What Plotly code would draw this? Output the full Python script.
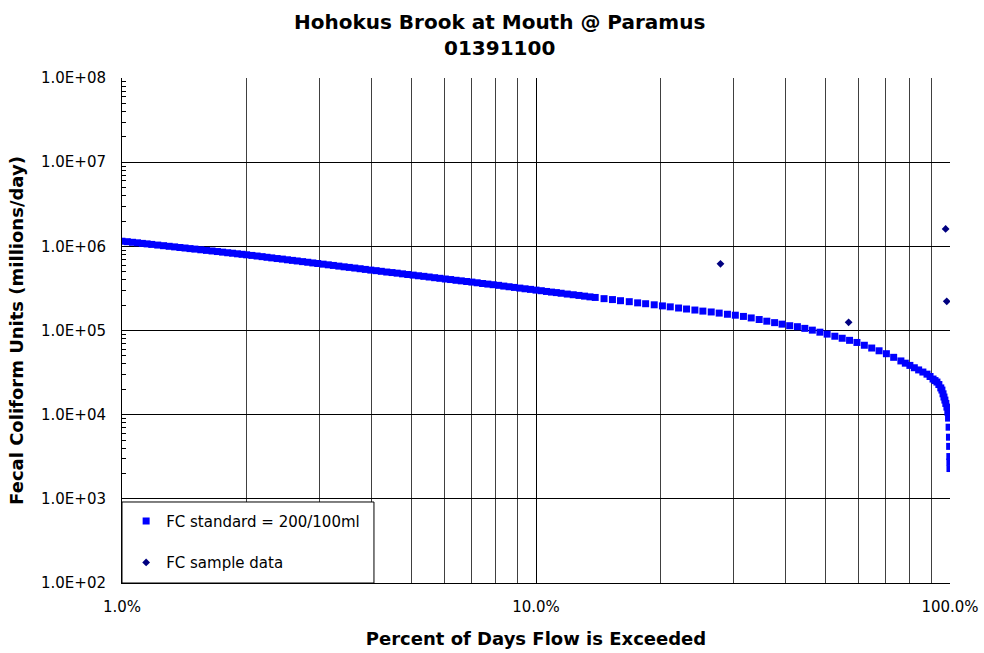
import plotly.graph_objects as go

# Flow-duration based FC standard curve (percent of days exceeded, millions/day)
std_pct = [1.00, 1.03, 1.06, 1.09, 1.12, 1.15, 1.18, 1.22, 1.26, 1.30, 1.34, 1.38, 1.42, 1.46,
           1.50, 1.55, 1.60, 1.65, 1.70, 1.75, 1.80, 1.85, 1.90, 1.95, 2.00, 2.06, 2.12, 2.18,
           2.24, 2.30, 2.37, 2.44, 2.51, 2.58, 2.65, 2.73, 2.81, 2.89, 2.97, 3.06, 3.15, 3.24,
           3.34, 3.44, 3.54, 3.65, 3.76, 3.87, 3.99, 4.11, 4.23, 4.36, 4.49, 4.62, 4.76, 4.90,
           5.05, 5.20, 5.36, 5.52, 5.69, 5.86, 6.04, 6.22, 6.41, 6.60, 6.80, 7.00, 7.21, 7.43,
           7.65, 7.88, 8.12, 8.36, 8.61, 8.87, 9.14, 9.41, 9.70, 10.0, 10.3, 10.6, 10.9, 11.2,
           11.5, 11.9, 12.3, 12.7, 13.1, 13.5, 13.9, 14.6, 15.3, 16.0, 16.8, 17.6, 18.4, 19.3,
           20.2, 21.1, 22.1, 23.1, 24.2, 25.3, 26.5, 27.7, 29.0, 30.3, 31.7, 33.1, 34.6, 36.1,
           37.7, 39.3, 41.0, 42.8, 44.6, 46.5, 48.5, 50.5, 52.7, 54.9, 57.2, 59.6, 62.1, 64.7,
           67.4, 70.2, 73.1, 76.1, 78.0, 80.0, 82.0, 84.0, 86.0, 88.0, 89.5, 91.0, 92.0, 93.0,
           94.0, 95.0, 95.6, 96.2, 96.7, 97.2, 97.7, 98.3, 98.8, 99.2, 99.5, 99.7, 99.8, 99.9,
           99.95, 99.98]
std_val = [1.15e6, 1.135e6, 1.117e6, 1.101e6, 1.084e6, 1.069e6, 1.054e6, 1.035e6, 1.018e6, 1.001e6,
           9.85e5, 9.68e5, 9.55e5, 9.40e5, 9.27e5, 9.10e5, 8.95e5, 8.81e5, 8.67e5, 8.53e5,
           8.39e5, 8.28e5, 8.15e5, 8.04e5, 7.93e5, 7.80e5, 7.67e5, 7.54e5, 7.41e5, 7.29e5,
           7.16e5, 7.05e5, 6.92e5, 6.81e5, 6.70e5, 6.58e5, 6.47e5, 6.35e5, 6.25e5, 6.14e5,
           6.03e5, 5.93e5, 5.82e5, 5.71e5, 5.62e5, 5.52e5, 5.42e5, 5.32e5, 5.22e5, 5.14e5,
           5.05e5, 4.95e5, 4.88e5, 4.80e5, 4.71e5, 4.63e5, 4.55e5, 4.47e5, 4.40e5, 4.32e5,
           4.24e5, 4.17e5, 4.09e5, 4.03e5, 3.95e5, 3.89e5, 3.82e5, 3.76e5, 3.69e5, 3.62e5,
           3.56e5, 3.50e5, 3.44e5, 3.37e5, 3.31e5, 3.25e5, 3.19e5, 3.13e5, 3.08e5, 3.02e5,
           2.97e5, 2.91e5, 2.86e5, 2.82e5, 2.77e5, 2.71e5, 2.66e5, 2.61e5, 2.56e5, 2.51e5,
           2.47e5, 2.39e5, 2.33e5, 2.26e5, 2.20e5, 2.13e5, 2.08e5, 2.02e5, 1.96e5, 1.91e5,
           1.85e5, 1.80e5, 1.75e5, 1.70e5, 1.66e5, 1.61e5, 1.56e5, 1.52e5, 1.47e5, 1.41e5,
           1.35e5, 1.29e5, 1.24e5, 1.19e5, 1.14e5, 1.11e5, 1.06e5, 1.01e5, 9.55e4, 9.06e4,
           8.55e4, 8.09e4, 7.64e4, 7.21e4, 6.68e4, 6.19e4, 5.74e4, 5.30e4, 4.80e4, 4.35e4,
           4.09e4, 3.85e4, 3.61e4, 3.40e4, 3.21e4, 3.03e4, 2.84e4, 2.65e4, 2.54e4, 2.44e4,
           2.28e4, 2.08e4, 1.96e4, 1.77e4, 1.62e4, 1.49e4, 1.36e4, 1.23e4, 1.07e4, 9.1e3,
           7.1e3, 5.4e3, 4.2e3, 3.18e3, 2.74e3, 2.29e3]

sample_pct = [27.9, 56.9, 97.6, 98.2]
sample_val = [6.2e5, 1.25e5, 1.61e6, 2.22e5]

y_tick_vals = [1e2, 1e3, 1e4, 1e5, 1e6, 1e7, 1e8]
y_tick_text = ["1.0E+02", "1.0E+03", "1.0E+04", "1.0E+05", "1.0E+06", "1.0E+07", "1.0E+08"]
x_tick_vals = [1, 10, 100]
x_tick_text = ["1.0%", "10.0%", "100.0%"]
x_minor_vals = [2, 3, 4, 5, 6, 7, 8, 9, 20, 30, 40, 50, 60, 70, 80, 90]
y_minor_vals = [k * 10 ** d for d in range(2, 8) for k in range(2, 10)]

FONT = "DejaVu Sans, Arial, sans-serif"

fig = go.Figure()
fig.add_trace(go.Scatter(
    x=std_pct, y=std_val, mode="markers", name="FC standard = 200/100ml",
    legendgroup="a",
    marker=dict(symbol="square", size=7, color="#0000FF", line=dict(width=0)),
))
fig.add_trace(go.Scatter(
    x=sample_pct, y=sample_val, mode="markers", name="FC sample data",
    legendgroup="b",
    marker=dict(symbol="diamond", size=6, color="#000080", line=dict(width=0)),
))

# legend frame
fig.add_shape(type="rect", xref="x domain", yref="y domain",
              x0=0, x1=0.3043, y0=0, y1=0.1604,
              line=dict(color="black", width=1), fillcolor="white", layer="above")

# chart title (two lines)
fig.add_annotation(text="<b>Hohokus Brook at Mouth @ Paramus<br>01391100</b>",
                   xref="paper", yref="paper", x=(499 - 122) / 828, y=(583 - 8) / 505,
                   xanchor="center", yanchor="top", showarrow=False, align="center",
                   font=dict(family=FONT, size=20, color="black"))

fig.update_layout(
    width=984, height=653,
    margin=dict(l=122, r=34, t=78, b=70, autoexpand=False),
    paper_bgcolor="white", plot_bgcolor="white",
    font=dict(family=FONT, size=15, color="black"),
    showlegend=True,
    legend=dict(x=0.005, xanchor="left", y=0.155, yanchor="top",
                bgcolor="rgba(0,0,0,0)", borderwidth=0,
                tracegroupgap=19, traceorder="grouped",
                font=dict(family=FONT, size=15, color="black")),
    xaxis=dict(type="log", range=[0, 2], automargin=False,
               tickmode="array", tickvals=x_tick_vals, ticktext=x_tick_text,
               ticks="", showline=True, linecolor="black", linewidth=1,
               showgrid=True, gridcolor="black", gridwidth=1,
               zeroline=False, ticklabelstandoff=10,
               tickfont=dict(family=FONT, size=15, color="black"),
               minor=dict(tickmode="array", tickvals=x_minor_vals, showgrid=True,
                          gridcolor="#404040", gridwidth=1, ticks=""),
               title=dict(text="<b>Percent of Days Flow is Exceeded</b>", standoff=17,
                          font=dict(family=FONT, size=18, color="black"))),
    yaxis=dict(type="log", range=[2, 8], automargin=False,
               tickmode="array", tickvals=y_tick_vals, ticktext=y_tick_text,
               ticks="", showline=True, linecolor="black", linewidth=1,
               showgrid=True, gridcolor="black", gridwidth=1,
               zeroline=False, ticklabelstandoff=12,
               tickfont=dict(family=FONT, size=15, color="black"),
               minor=dict(tickmode="array", tickvals=y_minor_vals, showgrid=False,
                          ticks="inside", ticklen=4, tickcolor="black", tickwidth=1),
               title=dict(text="<b>Fecal Coliform Units (millions/day)</b>", standoff=12,
                          font=dict(family=FONT, size=18, color="black"))),
)

fig.write_html(
    "out.html",
    config={"displayModeBar": False},
    post_script=(
        "document.documentElement.style.margin='0px';"
        "document.documentElement.style.overflow='hidden';"
        "document.body.style.margin='0px';"
        "document.body.style.overflow='hidden';"
    ),
)
